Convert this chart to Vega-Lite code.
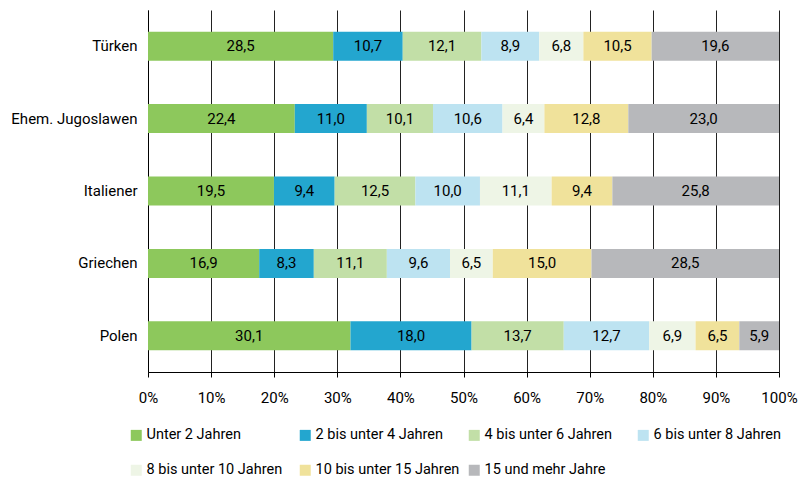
{
  "$schema": "https://vega.github.io/schema/vega-lite/v6.json",
  "autosize": "none",
  "width": 631,
  "height": 362,
  "padding": {"left": 148, "top": 10, "right": 26, "bottom": 106},
  "config": {
    "locale": {"number": {"decimal": ",", "thousands": ".", "grouping": [3], "currency": ["", " €"]}},
    "font": "Roboto",
    "view": {"stroke": null}
  },
  "data": {"values": [
    {"land": "Türken", "k": 1, "dauer": "Unter 2 Jahren", "v": 28.5},
    {"land": "Türken", "k": 2, "dauer": "2 bis unter 4 Jahren", "v": 10.7},
    {"land": "Türken", "k": 3, "dauer": "4 bis unter 6 Jahren", "v": 12.1},
    {"land": "Türken", "k": 4, "dauer": "6 bis unter 8 Jahren", "v": 8.9},
    {"land": "Türken", "k": 5, "dauer": "8 bis unter 10 Jahren", "v": 6.8},
    {"land": "Türken", "k": 6, "dauer": "10 bis unter 15 Jahren", "v": 10.5},
    {"land": "Türken", "k": 7, "dauer": "15 und mehr Jahre", "v": 19.6},
    {"land": "Ehem. Jugoslawen", "k": 1, "dauer": "Unter 2 Jahren", "v": 22.4},
    {"land": "Ehem. Jugoslawen", "k": 2, "dauer": "2 bis unter 4 Jahren", "v": 11.0},
    {"land": "Ehem. Jugoslawen", "k": 3, "dauer": "4 bis unter 6 Jahren", "v": 10.1},
    {"land": "Ehem. Jugoslawen", "k": 4, "dauer": "6 bis unter 8 Jahren", "v": 10.6},
    {"land": "Ehem. Jugoslawen", "k": 5, "dauer": "8 bis unter 10 Jahren", "v": 6.4},
    {"land": "Ehem. Jugoslawen", "k": 6, "dauer": "10 bis unter 15 Jahren", "v": 12.8},
    {"land": "Ehem. Jugoslawen", "k": 7, "dauer": "15 und mehr Jahre", "v": 23.0},
    {"land": "Italiener", "k": 1, "dauer": "Unter 2 Jahren", "v": 19.5},
    {"land": "Italiener", "k": 2, "dauer": "2 bis unter 4 Jahren", "v": 9.4},
    {"land": "Italiener", "k": 3, "dauer": "4 bis unter 6 Jahren", "v": 12.5},
    {"land": "Italiener", "k": 4, "dauer": "6 bis unter 8 Jahren", "v": 10.0},
    {"land": "Italiener", "k": 5, "dauer": "8 bis unter 10 Jahren", "v": 11.1},
    {"land": "Italiener", "k": 6, "dauer": "10 bis unter 15 Jahren", "v": 9.4},
    {"land": "Italiener", "k": 7, "dauer": "15 und mehr Jahre", "v": 25.8},
    {"land": "Griechen", "k": 1, "dauer": "Unter 2 Jahren", "v": 16.9},
    {"land": "Griechen", "k": 2, "dauer": "2 bis unter 4 Jahren", "v": 8.3},
    {"land": "Griechen", "k": 3, "dauer": "4 bis unter 6 Jahren", "v": 11.1},
    {"land": "Griechen", "k": 4, "dauer": "6 bis unter 8 Jahren", "v": 9.6},
    {"land": "Griechen", "k": 5, "dauer": "8 bis unter 10 Jahren", "v": 6.5},
    {"land": "Griechen", "k": 6, "dauer": "10 bis unter 15 Jahren", "v": 15.0},
    {"land": "Griechen", "k": 7, "dauer": "15 und mehr Jahre", "v": 28.5},
    {"land": "Polen", "k": 1, "dauer": "Unter 2 Jahren", "v": 30.1},
    {"land": "Polen", "k": 2, "dauer": "2 bis unter 4 Jahren", "v": 18.0},
    {"land": "Polen", "k": 3, "dauer": "4 bis unter 6 Jahren", "v": 13.7},
    {"land": "Polen", "k": 4, "dauer": "6 bis unter 8 Jahren", "v": 12.7},
    {"land": "Polen", "k": 5, "dauer": "8 bis unter 10 Jahren", "v": 6.9},
    {"land": "Polen", "k": 6, "dauer": "10 bis unter 15 Jahren", "v": 6.5},
    {"land": "Polen", "k": 7, "dauer": "15 und mehr Jahre", "v": 5.9}
  ]},
  "encoding": {
    "y": {
      "field": "land", "type": "nominal",
      "sort": ["Türken", "Ehem. Jugoslawen", "Italiener", "Griechen", "Polen"],
      "scale": {"paddingInner": 0.6, "paddingOuter": 0.3},
      "axis": {"title": null, "ticks": false, "domainColor": "#000", "labelFontSize": 15, "labelColor": "#000", "labelPadding": 11}
    }
  },
  "layer": [
    {
      "mark": {"type": "bar"},
      "encoding": {
        "x": {
          "field": "v", "type": "quantitative", "stack": "normalize",
          "scale": {"domain": [0, 1]},
          "axis": {"title": null, "format": ".0%", "tickCount": 10, "grid": true, "gridColor": "#222", "gridOpacity": 1, "domainColor": "#000", "tickColor": "#000", "tickSize": 5, "labelFontSize": 15, "labelColor": "#000", "labelPadding": 13, "labelFlush": false}
        },
        "color": {
          "field": "dauer", "type": "nominal",
          "scale": {
            "domain": ["Unter 2 Jahren", "2 bis unter 4 Jahren", "4 bis unter 6 Jahren", "6 bis unter 8 Jahren", "8 bis unter 10 Jahren", "10 bis unter 15 Jahren", "15 und mehr Jahre"],
            "range": ["#8DC85C", "#23A6CF", "#C2DFA7", "#BDE3F1", "#EEF5E6", "#F0E29B", "#B7B8BB"]
          },
          "legend": {
            "title": null, "orient": "none", "legendX": -19, "legendY": 418, "direction": "horizontal",
            "columns": 4, "gridAlign": "all", "symbolType": "square", "symbolSize": 121, "symbolStrokeWidth": 0,
            "labelFontSize": 14.5, "labelColor": "#000", "labelOffset": 3, "columnPadding": 7, "rowPadding": 20, "labelLimit": 250
          }
        },
        "order": {"field": "k", "type": "quantitative"}
      }
    },
    {
      "mark": {"type": "text", "fontSize": 15, "color": "#000"},
      "encoding": {
        "x": {"field": "v", "type": "quantitative", "stack": "normalize", "bandPosition": 0.5},
        "text": {"field": "v", "type": "quantitative", "format": ".1f"},
        "order": {"field": "k", "type": "quantitative"}
      }
    }
  ]
}
